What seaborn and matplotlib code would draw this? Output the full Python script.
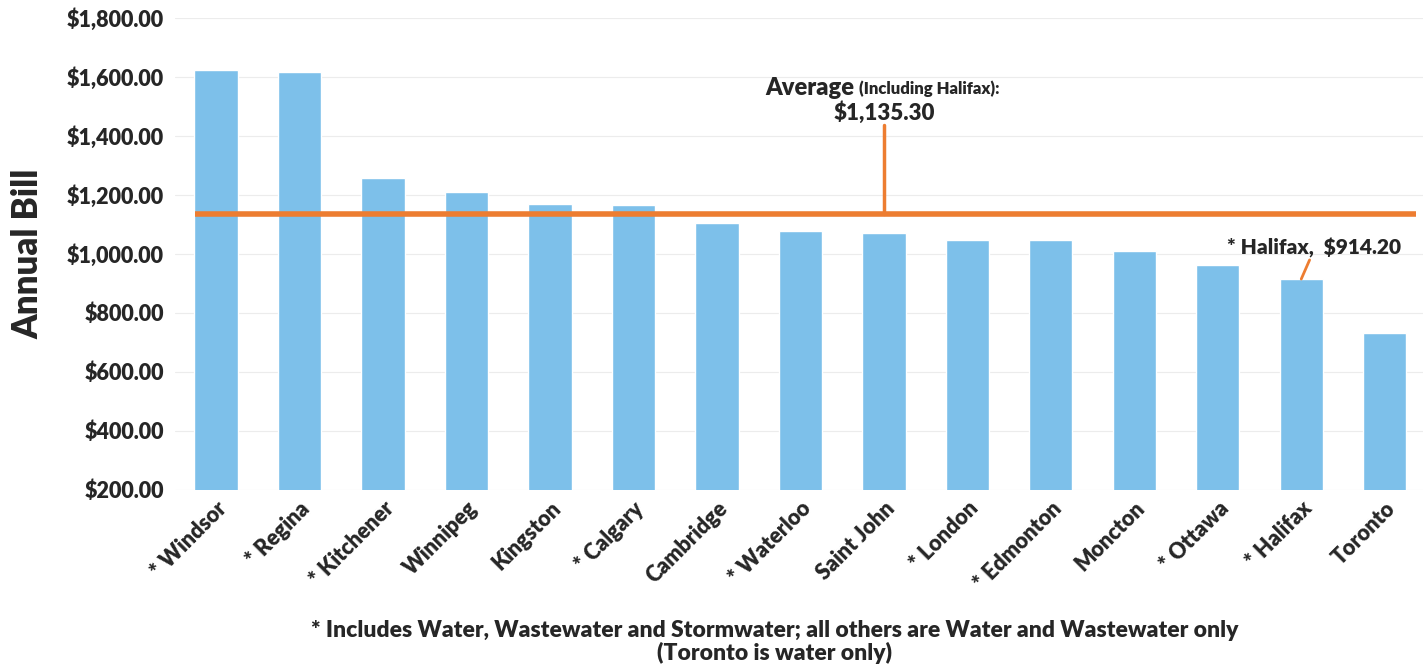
import numpy as np
import pandas as pd
import matplotlib.pyplot as plt
import seaborn as sns

# ----------- data -----------
cities = ["* Windsor", "* Regina", "* Kitchener", "Winnipeg", "Kingston", "* Calgary",
          "Cambridge", "* Waterloo", "Saint John", "* London", "* Edmonton", "Moncton",
          "* Ottawa", "* Halifax", "Toronto"]
bills = [1622, 1618, 1258, 1208, 1170, 1167, 1105, 1078, 1071, 1045, 1045, 1011, 963, 914.2, 732]
average = 1135.30
y_ticks = [200, 400, 600, 800, 1000, 1200, 1400, 1600, 1800]

df = pd.DataFrame({"City": cities, "Bill": bills})

sns.set_style("white")
plt.rcParams['font.family'] = ['Lato', 'DejaVu Sans']
W = "heavy"

fig, ax = plt.subplots(figsize=(14.26, 6.66), dpi=100)
fig.subplots_adjust(left=0.1227, right=0.998, top=0.973, bottom=0.265)

sns.barplot(data=df, x="City", y="Bill", color="#7dc0ea", saturation=1, width=0.52, ax=ax)

ax.set_ylim(200, 1800)
ax.set_xlim(-0.49, 14.46)
ax.set_yticks(y_ticks)
ax.set_yticklabels([f"${v:,.2f}" for v in y_ticks], fontsize=15.5, fontweight=W)
ax.grid(axis="y", color="#ececec", linewidth=0.8)
ax.set_axisbelow(True)
for s in ax.spines.values():
    s.set_visible(False)
ax.tick_params(axis="y", length=0, pad=8)
ax.tick_params(axis="x", length=0, pad=6)

ax.set_xticks(range(len(cities)))
ax.set_xticklabels(cities, rotation=45, ha="right", rotation_mode="anchor",
                   fontsize=15.5, fontweight=W)
ax.set_xlabel("")
ax.set_ylabel("Annual Bill", fontsize=25, fontweight=W, labelpad=16)

# average line + callout
ax.plot([-0.25, 14.38], [average, average], color="#ed7d31", linewidth=4, solid_capstyle="butt")
ax.plot([8, 8], [average, 1437], color="#ed7d31", linewidth=2.5)
ax.text(7.65, 1563, "Average", ha="right", va="center", fontsize=17, fontweight=W)
ax.text(7.7, 1560, "(Including Halifax):", ha="left", va="center", fontsize=12, fontweight=W)
ax.text(8.0, 1478, f"${average:,.2f}", ha="center", va="center", fontsize=16, fontweight=W)

# Halifax callout
ax.plot([13.0, 13.1], [914.2, 979], color="#ed7d31", linewidth=2)
ax.text(13.15, 1018, "* Halifax,  $914.20", ha="center", va="center", fontsize=15, fontweight=W)

fig.text(0.543, 0.036, "* Includes Water, Wastewater and Stormwater; all others are Water and Wastewater only\n(Toronto is water only)",
         ha="center", va="center", fontsize=16.5, fontweight=W, linespacing=1.1)

fig.savefig("out.png", dpi=100)
